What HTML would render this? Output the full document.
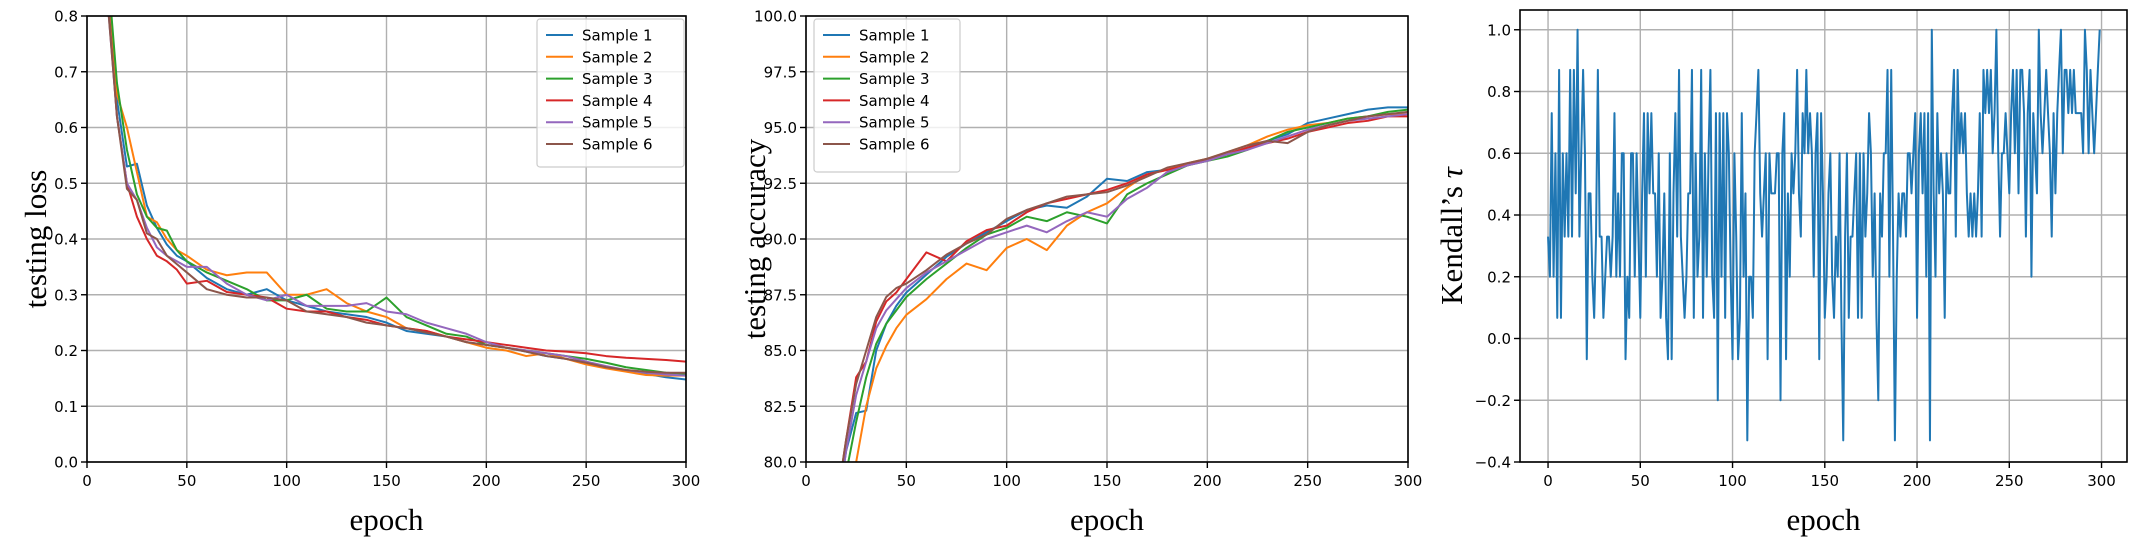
<!DOCTYPE html>
<html><head><meta charset="utf-8"><style>
body{margin:0;background:#fff;}
svg{display:block;}
.tick{font-family:"DejaVu Sans","Liberation Sans",sans-serif;font-size:15px;fill:#000;}
.lab{font-family:"Liberation Serif",serif;font-size:31px;fill:#000;}
.leg{font-family:"DejaVu Sans","Liberation Sans",sans-serif;font-size:15px;fill:#000;}
</style></head><body>
<svg id="fig" width="2131" height="556" viewBox="0 0 2131 556" xmlns="http://www.w3.org/2000/svg"></svg>
<script>
const seriesNames=["Sample 1","Sample 2","Sample 3","Sample 4","Sample 5","Sample 6"];
const colors=["#1f77b4","#ff7f0e","#2ca02c","#d62728","#9467bd","#8c564b"];
const xTicks=[0,50,100,150,200,250,300];
const lossTicks=[0.0,0.1,0.2,0.3,0.4,0.5,0.6,0.7,0.8];
const accTicks=[80.0,82.5,85.0,87.5,90.0,92.5,95.0,97.5,100.0];
const tauTicks=[-0.4,-0.2,0.0,0.2,0.4,0.6,0.8,1.0];
const lossEpochs=[5,10,15,20,25,30,35,40,45,50,60,70,80,90,100,110,120,130,140,150,160,170,180,190,200,210,220,230,240,250,260,270,280,290,300];
const loss1=[1.1,0.85,0.65,0.53,0.535,0.46,0.42,0.39,0.37,0.36,0.33,0.31,0.30,0.31,0.29,0.28,0.27,0.265,0.26,0.25,0.235,0.23,0.225,0.215,0.21,0.205,0.198,0.19,0.185,0.178,0.17,0.163,0.158,0.152,0.148];
const loss2=[1.15,0.9,0.66,0.60,0.52,0.44,0.43,0.40,0.38,0.37,0.345,0.335,0.34,0.34,0.30,0.30,0.31,0.285,0.27,0.26,0.24,0.235,0.225,0.215,0.205,0.20,0.19,0.195,0.185,0.175,0.168,0.162,0.156,0.155,0.155];
const loss3=[1.2,0.9,0.68,0.56,0.48,0.44,0.42,0.415,0.38,0.36,0.34,0.325,0.31,0.29,0.29,0.30,0.275,0.27,0.27,0.295,0.26,0.245,0.23,0.225,0.21,0.205,0.20,0.195,0.19,0.185,0.178,0.17,0.165,0.16,0.158];
const loss4=[1.1,0.85,0.62,0.50,0.44,0.40,0.37,0.36,0.345,0.32,0.325,0.305,0.30,0.295,0.275,0.27,0.27,0.26,0.255,0.245,0.24,0.235,0.225,0.22,0.215,0.21,0.205,0.20,0.198,0.195,0.19,0.187,0.185,0.183,0.18];
const loss5=[1.1,0.84,0.62,0.50,0.47,0.42,0.385,0.37,0.36,0.35,0.35,0.32,0.30,0.29,0.30,0.28,0.28,0.28,0.285,0.27,0.265,0.25,0.24,0.23,0.215,0.205,0.20,0.195,0.19,0.18,0.172,0.165,0.16,0.157,0.155];
const loss6=[1.1,0.84,0.62,0.49,0.47,0.41,0.40,0.37,0.355,0.34,0.31,0.30,0.295,0.295,0.29,0.27,0.265,0.26,0.25,0.245,0.24,0.232,0.225,0.215,0.21,0.205,0.198,0.19,0.185,0.178,0.17,0.165,0.162,0.16,0.16];
const accEpochs=[15,20,25,30,35,40,45,50,60,70,80,90,100,110,120,130,140,150,160,170,180,190,200,210,220,230,240,250,260,270,280,290,300];
const acc1=[77.5,80.5,82.2,82.3,85.0,86.2,87.0,87.6,88.4,89.2,89.8,90.3,90.8,91.3,91.5,91.4,91.9,92.7,92.6,93.0,93.1,93.3,93.6,93.8,94.1,94.4,94.7,95.2,95.4,95.6,95.8,95.9,95.9];
const acc2=[76,78,80,82.5,84.2,85.2,86.0,86.6,87.3,88.2,88.9,88.6,89.6,90.0,89.5,90.6,91.2,91.6,92.3,92.9,93.1,93.4,93.6,93.9,94.2,94.6,94.9,95.1,95.2,95.4,95.5,95.6,95.6];
const acc3=[77,79.5,81.8,83.8,85.3,86.2,86.8,87.4,88.2,88.9,89.6,90.2,90.5,91.0,90.8,91.2,91.0,90.7,92.0,92.5,92.9,93.3,93.5,93.7,94.0,94.4,94.8,95.0,95.2,95.4,95.5,95.7,95.8];
const acc4=[78,81,83.8,84.5,86.3,87.2,87.6,88.2,89.4,89.0,89.9,90.4,90.6,91.2,91.6,91.8,92.0,92.2,92.5,92.9,93.1,93.3,93.6,93.8,94.1,94.3,94.5,94.8,95.0,95.2,95.3,95.5,95.5];
const acc5=[77.5,80.5,83,84.5,86,86.8,87.3,87.8,88.5,89.0,89.5,90.0,90.3,90.6,90.3,90.8,91.2,91.0,91.8,92.3,93.0,93.3,93.5,93.8,94.0,94.3,94.6,94.9,95.1,95.3,95.4,95.5,95.6];
const acc6=[78,81,83.5,85,86.5,87.4,87.8,88.0,88.6,89.3,89.8,90.2,90.9,91.3,91.6,91.9,92.0,92.1,92.4,92.8,93.2,93.4,93.6,93.9,94.2,94.4,94.3,94.8,95.1,95.3,95.5,95.6,95.7];
const tau=[.33,.2,.73,.2,.6,.067,.87,.067,.6,.33,
.6,.33,.87,.33,.87,.47,1,.33,.6,.87,
.6,-.067,.47,.47,.2,.067,.33,.87,.33,.33,
.067,.2,.33,.33,.2,.33,.73,.2,.47,.2,
.6,.6,-.067,.2,.067,.6,.6,.2,.6,.33,
.067,.47,.73,.2,.73,.47,.73,.47,.47,.2,
.6,.067,.2,.47,.067,-.067,.6,-.067,.47,.73,
.33,.87,.33,.2,.067,.2,.47,.47,.87,.067,
.6,.2,.33,.87,.067,.6,.2,.6,.87,.2,
.067,.73,-.2,.73,.2,.73,.067,.73,.6,.2,
-.067,.6,.33,-.067,.067,.73,.2,.47,-.33,.2,
.2,.067,.6,.73,.87,.47,.33,.47,.6,-.067,
.6,.47,.47,.47,.6,.6,-.2,.6,.73,-.067,
.47,.2,.6,.47,.6,.87,.47,.33,.73,.6,
.87,.6,.73,.6,.2,.6,.73,-.067,.73,.47,
.067,.2,.47,.6,.2,.067,.33,.2,.6,.067,
-.33,.33,.6,.067,.33,.33,.47,.6,.067,.6,
.067,.6,.33,.47,.73,.6,.2,.47,.067,-.2,
.47,.33,.6,.6,.87,.2,.87,.33,-.33,.2,
.47,.33,.47,.47,.33,.6,.6,.47,.6,.73,
.067,.6,.73,.47,.73,.2,.73,-.33,1,.47,
.2,.73,.47,.6,.47,.067,.6,.47,.47,.73,
.87,.33,.87,.6,.73,.6,.73,.47,.33,.47,
.33,.47,.33,.47,.73,.33,.87,.73,.87,.73,
.87,.6,.73,1,.6,.33,.6,.6,.73,.6,
.47,.73,.87,.6,.87,.47,.87,.87,.73,.33,
.73,.87,.2,.73,.6,.47,1,.73,.6,.73,
.87,.73,.6,.33,.73,.47,.73,.87,1,.6,
.87,.87,.73,.87,.73,.87,.73,.73,.73,.73,
.6,1,.87,.6,.87,.73,.6,.73,.87,1];

const NS="http://www.w3.org/2000/svg";
const fig=document.getElementById('fig');
function mk(tag,attrs,parent){const e=document.createElementNS(NS,tag);for(const k in attrs)e.setAttribute(k,attrs[k]);(parent||fig).appendChild(e);return e;}

function panel(cfg){
  const g=mk('g',{});
  
  
  const {L,R,T,B,x0,x1,y0,y1}=cfg;
  const sx=v=>L+(v-x0)/(x1-x0)*(R-L);
  const sy=v=>B-(v-y0)/(y1-y0)*(B-T);
  const cid='clip-'+cfg.name;
  const cp=mk('clipPath',{id:cid},g);mk('rect',{x:L,y:T,width:R-L,height:B-T},cp);
  // grid
  xTicks.forEach(t=>{const l=mk('line',{x1:sx(t),x2:sx(t),y1:T,y2:B,stroke:'#b0b0b0','stroke-width':1.4},g);
    
    });
  cfg.yTicks.forEach(t=>{const l=mk('line',{x1:L,x2:R,y1:sy(t),y2:sy(t),stroke:'#b0b0b0','stroke-width':1.4},g);
    
    });
  // series
  cfg.series.forEach((s,i)=>{
    const d=s.y.map((v,j)=>(j?'L':'M')+sx(s.x[j]).toFixed(2)+' '+sy(v).toFixed(2)).join(' ');
    const p=mk('path',{d:d,fill:'none',stroke:s.color,'stroke-width':2,'stroke-linejoin':'round','clip-path':'url(#'+cid+')'},g);
    
    
  });
  // spines
  const fr=mk('rect',{x:L,y:T,width:R-L,height:B-T,fill:'none',stroke:'#000','stroke-width':1.6},g);
  
  
  // ticks
  xTicks.forEach(t=>{mk('line',{x1:sx(t),x2:sx(t),y1:B,y2:B+6,stroke:'#000','stroke-width':1.4},g);
    const tx=mk('text',{x:sx(t),y:B+24,'text-anchor':'middle',class:'tick'},g);tx.textContent=String(t);
    
    });
  cfg.yTicks.forEach(t=>{mk('line',{x1:L-6,x2:L,y1:sy(t),y2:sy(t),stroke:'#000','stroke-width':1.4},g);
    const tx=mk('text',{x:L-9,y:sy(t)+5.5,'text-anchor':'end',class:'tick'},g);tx.textContent=cfg.fmt(t);
    
    });
  const xl=mk('text',{x:(L+R)/2,y:530,'text-anchor':'middle',class:'lab'},g);xl.textContent='epoch';
  
  
  const yl=mk('text',{x:0,y:0,'text-anchor':'middle',class:'lab',transform:'translate('+cfg.ylx+','+((T+B)/2)+') rotate(-90)'},g);
  yl.innerHTML=cfg.ylabel;
  
  
  if(cfg.legend){
    const lg=mk('g',{},g);
    
    
    const [lx,ly,lw,lh]=cfg.legend;
    mk('rect',{x:lx,y:ly,width:lw,height:lh,rx:3,fill:'#fff','fill-opacity':0.8,stroke:'#ccc','stroke-width':1.2},lg);
    seriesNames.forEach((n,i)=>{
      const yy=ly+16+i*21.8;
      const e=mk('g',{},lg);
      
      
      mk('line',{x1:lx+9,x2:lx+36,y1:yy,y2:yy,stroke:colors[i],'stroke-width':2},e);
      const t=mk('text',{x:lx+45,y:yy+5.5,class:'leg'},e);t.textContent=n;
    });
  }
}
const lossData=[loss1,loss2,loss3,loss4,loss5,loss6];
const accData=[acc1,acc2,acc3,acc4,acc5,acc6];
const tauEpochs=tau.map((_,i)=>i);
panel({name:'loss-panel',L:87,R:686,T:16,B:462,x0:0,x1:300,y0:0,y1:0.8,yTicks:lossTicks,fmt:t=>t.toFixed(1),
  ylx:46,ylabel:'testing loss',legend:[537,19,147,148],
  series:lossData.map((y,i)=>({x:lossEpochs,y:y,color:colors[i]}))});
panel({name:'accuracy-panel',L:806,R:1408,T:16,B:462,x0:0,x1:300,y0:80,y1:100,yTicks:accTicks,fmt:t=>t.toFixed(1),
  ylx:765,ylabel:'testing accuracy',legend:[814,19,146,153],
  series:accData.map((y,i)=>({x:accEpochs,y:y,color:colors[i]}))});
panel({name:'kendall-panel',L:1520,R:2127,T:10,B:462,x0:-15.2,x1:313.8,y0:-0.4,y1:1.064,yTicks:tauTicks,fmt:t=>(t<0?'\u2212':'')+Math.abs(t).toFixed(1),
  ylx:1462,ylabel:'Kendall\u2019s <tspan font-style="italic">\u03c4</tspan>',legend:null,
  series:[{x:tauEpochs,y:tau,color:colors[0]}]});
</script>
</body></html>
